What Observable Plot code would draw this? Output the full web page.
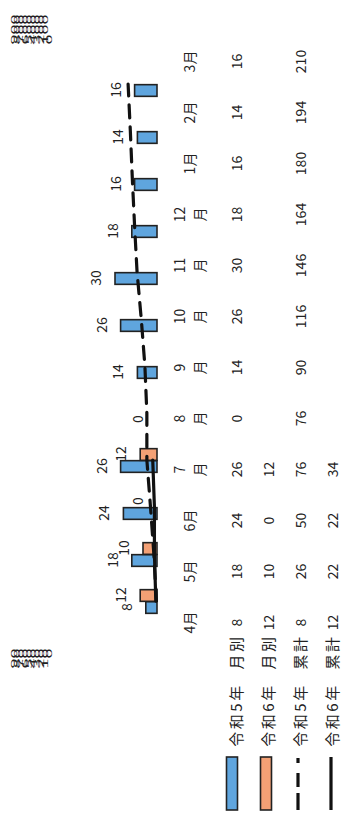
<!DOCTYPE html>
<html><head><meta charset="utf-8">
<script src="https://cdn.jsdelivr.net/npm/d3@7"></script>
<script src="https://cdn.jsdelivr.net/npm/@observablehq/plot@0.6"></script>
<style>
html,body{margin:0;padding:0;background:#fff;overflow:hidden;width:354px;height:819px}
#stage{position:absolute;left:0;top:0;width:819px;height:354px;transform-origin:0 0;transform:translate(0px,819px) rotate(-90deg);font-family:"Noto Sans CJK JP",sans-serif;color:#222}
#chart,#table,#axL,#axR,#legend{position:absolute}
#chart{left:0;top:0}
#table{left:0;top:175px}
#axL,#axR{transform-origin:0 0}
svg{overflow:visible}
</style></head><body>
<div id="stage"><div id="chart"></div><div id="table"></div><div id="axL"></div><div id="axR"></div><div id="legend"></div></div>
<script>
// ---- data ----
const months = ["4月","5月","6月","7 月","8 月","9 月","10 月","11 月","12 月","1月","2月","3月"];
const r5Monthly = [8,18,24,26,0,14,26,30,18,16,14,16];
const r6Monthly = [12,10,0,12];
const r5Cumulative = [8,26,50,76,76,90,116,146,164,180,194,210];
const r6Cumulative = [12,22,22,34];
const seriesNames = ["令和5年 月別","令和6年 月別","令和5年 累計","令和6年 累計"];
const leftTicks = [0,10,20,30,40,50,60,70,80,90];
const rightTicks = [0,100,200,300,400,500,600,700,800,900];
const blue = "#5fa5de", orange = "#f3a075", ink = "#222";

const rows = (arr) => arr.map((v,i) => ({month: months[i], value: v}));
const r5M = rows(r5Monthly), r6M = rows(r6Monthly), r5C = rows(r5Cumulative), r6C = rows(r6Cumulative);

const xRange = [192, 760];
const bw = (xRange[1]-xRange[0]) / months.length;
const font = '"Noto Sans CJK JP", sans-serif';
const baseStyle = {fontFamily: font, fontSize: "14px", color: ink, background: "transparent", maxWidth: "none", overflow: "visible"};

// ---- chart ----
const chart = Plot.plot({
  width: 819, height: 175,
  marginTop: 31, marginBottom: 18, marginLeft: 192, marginRight: 59,
  style: baseStyle,
  x: {domain: months, range: xRange, padding: 0, axis: null},
  y: {domain: [0, 90], range: [157, 31], axis: null},
  marks: [
    Plot.barY(r5M, {x: "month", y: "value", fill: blue, stroke: ink, strokeWidth: 1.6, insetLeft: bw/2 - 12, insetRight: bw/2}),
    Plot.barY(r6M, {x: "month", y: "value", fill: orange, stroke: ink, strokeWidth: 1.6, insetLeft: bw/2, insetRight: bw/2 - 12}),
    Plot.line(r5C, {x: "month", y: d => d.value / 10, stroke: "#111", strokeWidth: 3.2, strokeDasharray: "13,9"}),
    Plot.line(r6C, {x: "month", y: d => d.value / 10, stroke: "#111", strokeWidth: 3.2}),
    Plot.text(r5M, {x: "month", y: "value", text: d => String(d.value), dx: -6, dy: -19, fontSize: 14, fill: ink}),
    Plot.text(r6M, {x: "month", y: "value", text: d => String(d.value), dx: 6, dy: -19, fontSize: 14, fill: ink})
  ]
});
document.getElementById("chart").appendChild(chart);

// ---- crammed axis labels (as printed: squeezed together) ----
const axL = Plot.plot({
  width: 200, height: 130, marginLeft: 198, marginRight: 2, marginTop: 0, marginBottom: 0,
  style: baseStyle,
  x: {axis: null},
  y: {domain: [0, 90], range: [108, 20], axis: null},
  marks: [Plot.axisY(leftTicks, {anchor: "left", tickSize: 0, tickPadding: 0, fontSize: 18, label: null})]
});
const axLDiv = document.getElementById("axL");
axLDiv.style.left = (170 - 198) + "px"; axLDiv.style.top = "6px";
axLDiv.style.transform = "scaleY(0.4)";
axLDiv.appendChild(axL);

const axR = Plot.plot({
  width: 200, height: 130, marginLeft: 2, marginRight: 198, marginTop: 0, marginBottom: 0,
  style: baseStyle,
  x: {axis: null},
  y: {domain: [0, 900], range: [108, 20], axis: null},
  marks: [Plot.axisY(rightTicks, {anchor: "right", tickSize: 0, tickPadding: 0, fontSize: 18, label: null})]
});
const axRDiv = document.getElementById("axR");
axRDiv.style.left = (774 - 2) + "px"; axRDiv.style.top = "6px";
axRDiv.style.transform = "scaleY(0.4)";
axRDiv.appendChild(axR);

// ---- data table ----
const tableData = [];
[r5Monthly, r6Monthly, r5Cumulative, r6Cumulative].forEach((arr, k) =>
  arr.forEach((v, i) => tableData.push({month: months[i], row: seriesNames[k], value: v})));

const table = Plot.plot({
  width: 819, height: 179,
  marginTop: 61, marginBottom: 20, marginLeft: 192, marginRight: 59,
  style: baseStyle,
  x: {domain: months, range: xRange, padding: 0, axis: null},
  y: {type: "point", domain: seriesNames, range: [61, 159], padding: 0, axis: null},
  marks: [
    Plot.text(months, {x: d => d, frameAnchor: "top", lineAnchor: "middle", dy: -48, text: d => d.replace(" ", "\n"), lineHeight: 1.4, fontSize: 14, fill: ink}),
    Plot.text(tableData, {x: "month", y: "row", text: d => String(d.value), fontSize: 14, fill: ink}),
    Plot.axisY({anchor: "left", tickSize: 0, tickPadding: 8, fontSize: 15, label: null})
  ]
});
d3.select(table).selectAll('g[aria-label="y-axis tick label"] text')
  .style("letter-spacing", "2.5px").style("word-spacing", "8px").attr("fill", ink);
document.getElementById("table").appendChild(table);

// ---- legend swatches ----
const lg = d3.select("#legend").style("left", "0px").style("top", "0px")
  .append("svg").attr("width", 70).attr("height", 354);
const swatchY = [232, 266, 298, 331];
lg.append("rect").attr("x", 9).attr("y", swatchY[0] - 5.5).attr("width", 53).attr("height", 11)
  .attr("fill", blue).attr("stroke", ink).attr("stroke-width", 1.6);
lg.append("rect").attr("x", 9).attr("y", swatchY[1] - 5.5).attr("width", 53).attr("height", 11)
  .attr("fill", orange).attr("stroke", ink).attr("stroke-width", 1.6);
lg.append("line").attr("x1", 9).attr("x2", 62).attr("y1", swatchY[2]).attr("y2", swatchY[2])
  .attr("stroke", "#111").attr("stroke-width", 3.2).attr("stroke-dasharray", "17,6,14,10,5,100");
lg.append("line").attr("x1", 9).attr("x2", 62).attr("y1", swatchY[3]).attr("y2", swatchY[3])
  .attr("stroke", "#111").attr("stroke-width", 3.2);
</script>
</body></html>
